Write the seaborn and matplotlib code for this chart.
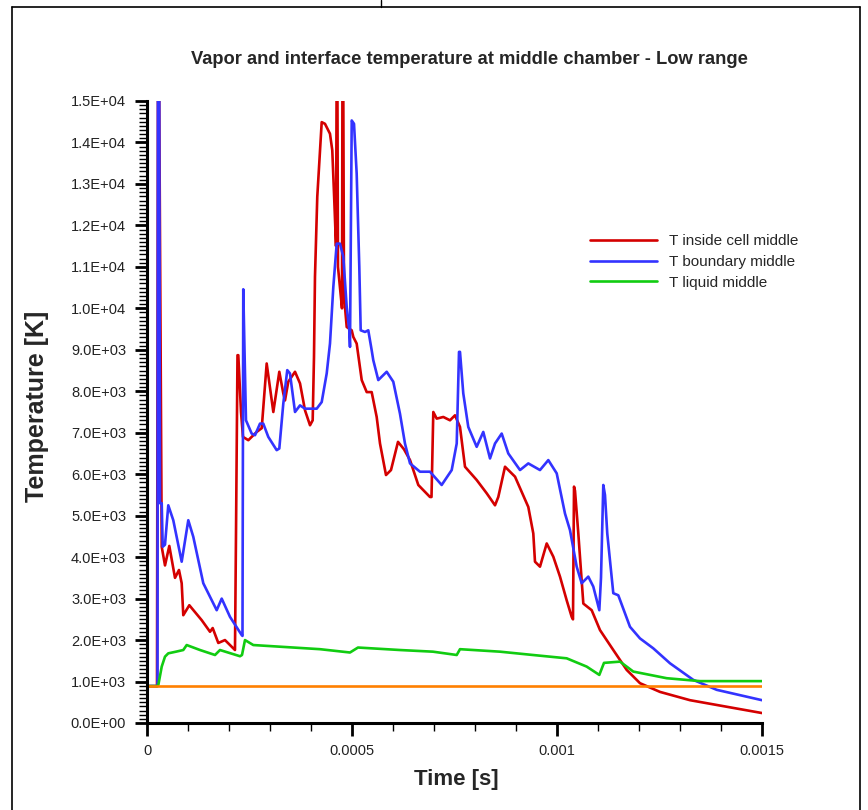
import numpy as np
import pandas as pd
import matplotlib
matplotlib.use("Agg")
import matplotlib.pyplot as plt
import seaborn as sns
from matplotlib.lines import Line2D
from matplotlib.ticker import MultipleLocator, FixedLocator, FuncFormatter

sns.set_theme(style="white")
plt.rcParams['font.family'] = ['Liberation Sans', 'DejaVu Sans']

# ---------------- data (time in microseconds, temperature in K) ----------------
red_t_us = [0, 24.4, 26.8, 29.3, 35.9, 43.9, 54.4, 68.3, 78.0, 84.6, 88.5, 103.2, 133.4,
            153.7, 160.2, 173.9, 190.2, 214.6, 217.1, 220.7, 222.7, 229.3, 234.1, 247.1,
            267.6, 279.8, 291.9, 308.1, 322.7, 332.4, 336.6, 344.6, 361.0, 373.2, 385.4,
            397.6, 404.1, 407.3, 409.7, 415.3, 426.1, 434.1, 446.3, 451.9, 456.8, 461.0,
            462.7, 464.2, 465.8, 470.7, 475.6, 476.8, 478.5, 480.5, 487.1, 499.3, 503.2,
            511.4, 523.7, 535.9, 548.0, 560.2, 568.3, 582.9, 595.1, 612.2, 626.8, 641.5,
            661.7, 690.2, 693.9, 698.3, 706.6, 722.7, 739.0, 751.2, 763.4, 775.6, 804.1,
            828.5, 848.8, 856.8, 873.2, 897.6, 930.0, 942.2, 946.3, 958.5, 974.9, 991.0,
            1007.3, 1023.6, 1035.8, 1039.0, 1041.5, 1043.9, 1052.0, 1064.2, 1084.6, 1104.9,
            1137.3, 1170.0, 1202.4, 1251.2, 1324.4, 1500.0]
red_T = [890, 890, 16000, 16000, 4250, 3800, 4270, 3500, 3690, 3370, 2600, 2840, 2480,
         2200, 2290, 1930, 2000, 1760, 4600, 8870, 8870, 7500, 6900, 6820,
         7020, 7110, 8670, 7500, 8470, 7950, 7780, 8230, 8470, 8190, 7540,
         7180, 7300, 8830, 10760, 12690, 14490, 14450, 14210, 13810, 12600, 11500,
         16000, 16000, 11000, 10500, 10000, 16000, 16000, 10300, 9550, 9470, 9310,
         9150, 8270, 7980, 7980, 7380, 6740, 5980, 6100, 6780, 6600, 6340,
         5740, 5450, 5450, 7500, 7340, 7380, 7300, 7420, 7140, 6180, 5860,
         5540, 5250, 5450, 6180, 5940, 5210, 4570, 3890, 3770, 4330, 4010,
         3530, 2960, 2560, 2500, 5700, 5600, 4570, 2880, 2720, 2240,
         1760, 1280, 960, 750, 550, 240]

blue_t_us = [0, 25.6, 26.8, 29.8, 31.7, 35.9, 38.3, 43.9, 51.9, 64.1, 84.6, 100.7, 112.9,
             137.3, 170.0, 182.2, 202.4, 231.0, 232.9, 234.8, 237.8, 241.4, 255.3, 263.4,
             275.6, 283.6, 295.8, 316.3, 322.7, 332.4, 342.1, 348.7, 361.0, 373.2, 385.4,
             413.9, 426.1, 438.3, 446.3, 454.4, 462.7, 470.7, 478.8, 487.1, 493.4, 495.1,
             499.3, 504.9, 511.4, 517.8, 521.2, 531.7, 539.7, 548.0, 551.9, 564.1, 584.6,
             600.7, 617.0, 629.2, 641.5, 665.8, 690.2, 718.7, 743.2, 755.4, 761.0, 763.4,
             771.4, 783.6, 804.1, 820.2, 836.6, 848.8, 865.1, 881.2, 909.8, 930.0, 958.5,
             978.8, 999.3, 1019.5, 1031.7, 1048.0, 1060.2, 1076.3, 1088.5, 1103.2, 1107.3,
             1112.9, 1117.0, 1122.6, 1137.3, 1149.5, 1178.0, 1202.4, 1234.9, 1275.6, 1332.4,
             1389.5, 1500.0]
blue_T = [890, 890, 16000, 16000, 5300, 5300, 4250, 4300, 5250, 4890, 3890, 4890, 4490,
          3370, 2720, 3000, 2560, 2120, 2100, 10460, 9000, 7300, 6980, 6940,
          7220, 7220, 6900, 6580, 6620, 7700, 8510, 8430, 7500, 7660, 7580,
          7580, 7740, 8430, 9150, 10510, 11560, 11560, 11240, 10030, 9470, 9070,
          14530, 14450, 13250, 11000, 9470, 9430, 9470, 8990, 8750, 8270, 8470,
          8230, 7460, 6740, 6260, 6060, 6060, 5740, 6100, 6740, 8950, 8950,
          7950, 7140, 6660, 7020, 6380, 6740, 6980, 6500, 6100, 6260, 6100,
          6340, 6020, 5050, 4650, 3770, 3370, 3530, 3290, 2720, 3500,
          5740, 5500, 4570, 3130, 3080, 2320, 2040, 1800, 1440, 1040,
          800, 550]

green_t_us = [0, 25.6, 27.6, 35.9, 43.9, 51.9, 70.7, 88.5, 96.8, 129.3, 165.9, 178.0,
              226.8, 231.7, 239.0, 259.3, 324.4, 422.0, 495.1, 514.6, 617.0, 697.5, 755.4,
              763.4, 861.0, 941.5, 1023.6, 1072.4, 1103.2, 1114.6, 1153.7, 1186.1, 1267.6,
              1348.8, 1500.0]
green_T = [890, 890, 915, 1360, 1600, 1680, 1720, 1760, 1880, 1760, 1640, 1760,
           1610, 1640, 2000, 1880, 1840, 1780, 1700, 1820, 1760, 1720, 1640,
           1780, 1720, 1640, 1560, 1360, 1160, 1450, 1480, 1240, 1080,
           1010, 1010]

orange_t_us = [0, 1500.0]
orange_T = [890, 890]

series_names = ["T inside cell middle", "T boundary middle", "T liquid middle", "T reference"]
series_colors = ["#d40000", "#3333ff", "#11cc11", "#ff8000"]

x_ticks = [0, 0.0005, 0.001, 0.0015]
x_tick_labels = ["0", "0.0005", "0.001", "0.0015"]

frames = []
for name, tt, TT in zip(series_names,
                        [red_t_us, blue_t_us, green_t_us, orange_t_us],
                        [red_T, blue_T, green_T, orange_T]):
    frames.append(pd.DataFrame({"t": np.array(tt) * 1e-6, "T": TT, "series": name}))
df = pd.concat(frames, ignore_index=True)

# ---------------- figure ----------------
fig = plt.figure(figsize=(8.68, 8.10), dpi=100)
ax = fig.add_axes([147/868, 1 - 723/810, (762 - 147)/868, (723 - 101)/810])

sns.lineplot(data=df, x="t", y="T", hue="series", hue_order=series_names,
             palette=dict(zip(series_names, series_colors)), estimator=None,
             sort=False, linewidth=1.9, legend=False, ax=ax)

ax.set_xlim(0, 0.0015)
ax.set_ylim(0, 15000)
ax.xaxis.set_major_locator(FixedLocator(x_ticks))
ax.set_xticklabels(x_tick_labels)
ax.xaxis.set_minor_locator(MultipleLocator(0.0001))
ax.yaxis.set_major_locator(MultipleLocator(1000))
ax.yaxis.set_minor_locator(MultipleLocator(100))
ax.yaxis.set_major_formatter(FuncFormatter(lambda v, p: "{:.1E}".format(v)))

for s in ["top", "right"]:
    ax.spines[s].set_visible(False)
for s in ["left", "bottom"]:
    ax.spines[s].set_color("black")
    ax.spines[s].set_linewidth(2.2)

ax.tick_params(which="major", direction="out", length=9, width=2, color="black",
               labelsize=10.5, labelcolor="#222222", pad=6, left=True, bottom=True)
ax.tick_params(which="minor", direction="out", length=6, width=1, color="black",
               left=True, bottom=True)
ax.set_xlabel("")
ax.set_ylabel("")
ax.grid(False)

fig.text(469/868, 1 - 60/810, "Vapor and interface temperature at middle chamber - Low range",
         ha="center", va="center", fontsize=13.2, fontweight="bold")
fig.text(456/868, 1 - 780/810, "Time [s]", ha="center", va="center",
         fontsize=16, fontweight="bold")
fig.text(37/868, 1 - 406/810, "Temperature [K]", ha="center", va="center",
         rotation=90, fontsize=18, fontweight="bold")

handles = [Line2D([], [], color=c, lw=1.9) for c in series_colors[:3]]
ax.legend(handles, series_names[:3], loc="upper left",
          bbox_to_anchor=(590/868, 1 - 234/810), bbox_transform=fig.transFigure,
          frameon=False, fontsize=11, handlelength=4.4, handletextpad=0.8,
          labelspacing=0.45, borderpad=0, borderaxespad=0)

# outer frame lines
fig.add_artist(Line2D([12/868, 12/868], [0, 1 - 7/810], transform=fig.transFigure,
                      color="black", lw=1.2))
fig.add_artist(Line2D([12/868, 860/868], [1 - 7/810, 1 - 7/810], transform=fig.transFigure,
                      color="black", lw=1.2))
fig.add_artist(Line2D([860/868, 860/868], [0, 1 - 7/810], transform=fig.transFigure,
                      color="black", lw=1.2))
fig.add_artist(Line2D([381/868, 381/868], [1 - 7/810, 1], transform=fig.transFigure,
                      color="black", lw=1.0))

fig.savefig("out.png", dpi=100)
